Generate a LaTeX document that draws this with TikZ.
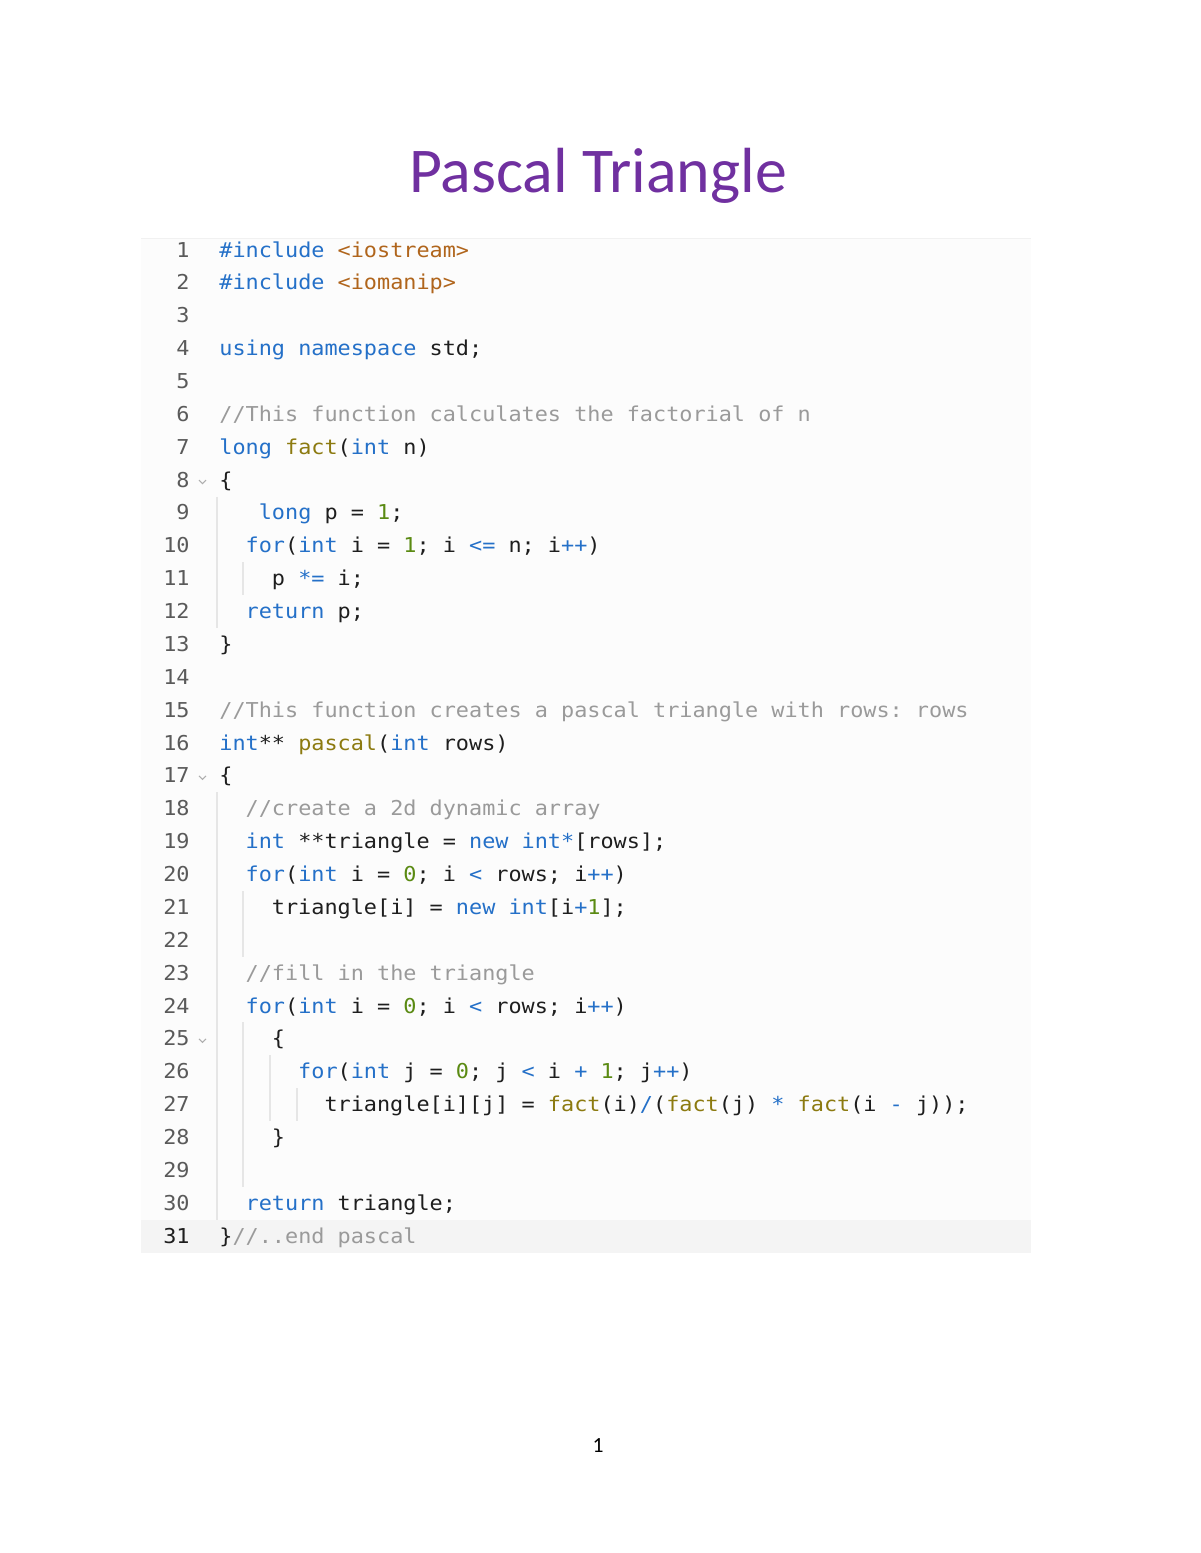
\documentclass[tikz,border=0pt]{standalone}
\usepackage{fontspec}
\newfontfamily\codefont[FakeStretch=1.065]{DejaVu Sans Mono}
\newfontfamily\titlefont{Carlito}
\definecolor{titlepurple}{HTML}{7030A0}
\definecolor{kwblue}{HTML}{2470C8}
\definecolor{strbrown}{HTML}{B0651C}
\definecolor{fnolive}{HTML}{8C7A10}
\definecolor{numgreen}{HTML}{5A8A12}
\definecolor{comgray}{HTML}{9A9A9A}
\definecolor{codeblack}{HTML}{1E1E1E}
\definecolor{lngray}{HTML}{5A5A5A}
\definecolor{codebg}{HTML}{FCFCFC}
\definecolor{hlbg}{HTML}{F4F4F4}
\definecolor{guidegray}{HTML}{E6E6E6}
\newcommand{\Ckw}[1]{\textcolor{kwblue}{#1}}
\newcommand{\Cstr}[1]{\textcolor{strbrown}{#1}}
\newcommand{\Cfn}[1]{\textcolor{fnolive}{#1}}
\newcommand{\Cnum}[1]{\textcolor{numgreen}{#1}}
\newcommand{\Ccom}[1]{\textcolor{comgray}{#1}}
\newcommand{\CLine}[3]{\node[codetext] (c#1) at ({219+#2*13.14},{257+(#1-1)*32.87}) {#3};}
\newcommand{\CGuide}[4]{\draw[guide] (#1,{250+(#2-1)*32.87-16.4}) -- (#1,{250+(#3-1)*32.87+16.4}) coordinate (#4);}
\frenchspacing
\begin{document}
\begin{tikzpicture}[x=0.5pt,y=-0.5pt,
  codetext/.style={anchor=base west,inner sep=0pt,text=codeblack,font=\frenchspacing\codefont\fontsize{10.25}{12}\selectfont},
  lnum/.style={anchor=base east,inner sep=0pt,text=lngray,font=\codefont\fontsize{10.25}{12}\selectfont},
  guide/.style={draw=guidegray,line width=0.6pt},
  fold/.style={draw=comgray!80,line width=0.5pt}]
\useasboundingbox (0,0) rectangle (1200,1553);
\fill[white] (0,0) rectangle (1200,1553);
% code background
\fill[codebg] (141,238) rectangle (1031,1253);
\draw[hlbg!90!black!40,line width=0.4pt] (141,238) -- (1031,238);
\fill[hlbg] (141,1220) rectangle (1031,1253);
% title
\node[anchor=base,inner sep=0pt,text=titlepurple,font=\titlefont\fontsize{31.9}{38}\selectfont] (title) at (598,192) {Pascal Triangle};
% line numbers
\foreach \n in {1,...,30} {
  \node[lnum] (n\n) at (190,{257+(\n-1)*32.87}) {\n};
}
\node[lnum,text=codeblack] (n31) at (190,{257+30*32.87}) {31};
% fold chevrons
\foreach \n in {8,17,25} {
  \draw[fold] (199,{250+(\n-1)*32.87}) -- (202.5,{253.5+(\n-1)*32.87}) -- (206,{250+(\n-1)*32.87});
}
% indent guides
\CGuide{217}{9}{12}{g1}
\CGuide{243}{11}{11}{g2}
\CGuide{217}{18}{30}{g3}
\CGuide{243}{21}{22}{g4}
\CGuide{243}{25}{29}{g5}
\CGuide{270}{26}{27}{g6}
\CGuide{297}{27}{27}{g7}
% code
\CLine{1}{0}{\Ckw{\#include} \Cstr{<iostream>}}
\CLine{2}{0}{\Ckw{\#include} \Cstr{<iomanip>}}
\CLine{4}{0}{\Ckw{using} \Ckw{namespace} std;}
\CLine{6}{0}{\Ccom{//This function calculates the factorial of n}}
\CLine{7}{0}{\Ckw{long} \Cfn{fact}(\Ckw{int} n)}
\CLine{8}{0}{\{}
\CLine{9}{3}{\Ckw{long} p = \Cnum{1};}
\CLine{10}{2}{\Ckw{for}(\Ckw{int} i = \Cnum{1}; i \Ckw{<=} n; i\Ckw{++})}
\CLine{11}{4}{p \Ckw{*=} i;}
\CLine{12}{2}{\Ckw{return} p;}
\CLine{13}{0}{\}}
\CLine{15}{0}{\Ccom{//This function creates a pascal triangle with rows: rows}}
\CLine{16}{0}{\Ckw{int}** \Cfn{pascal}(\Ckw{int} rows)}
\CLine{17}{0}{\{}
\CLine{18}{2}{\Ccom{//create a 2d dynamic array}}
\CLine{19}{2}{\Ckw{int} **triangle = \Ckw{new} \Ckw{int*}[rows];}
\CLine{20}{2}{\Ckw{for}(\Ckw{int} i = \Cnum{0}; i \Ckw{<} rows; i\Ckw{++})}
\CLine{21}{4}{triangle[i] = \Ckw{new} \Ckw{int}[i\Ckw{+}\Cnum{1}];}
\CLine{23}{2}{\Ccom{//fill in the triangle}}
\CLine{24}{2}{\Ckw{for}(\Ckw{int} i = \Cnum{0}; i \Ckw{<} rows; i\Ckw{++})}
\CLine{25}{4}{\{}
\CLine{26}{6}{\Ckw{for}(\Ckw{int} j = \Cnum{0}; j \Ckw{<} i \Ckw{+} \Cnum{1}; j\Ckw{++})}
\CLine{27}{8}{triangle[i][j] = \Cfn{fact}(i)\Ckw{/}(\Cfn{fact}(j) \Ckw{*} \Cfn{fact}(i \Ckw{-} j));}
\CLine{28}{4}{\}}
\CLine{30}{2}{\Ckw{return} triangle;}
\CLine{31}{0}{\}\Ccom{//..end pascal}}
% page number
\node[anchor=base,inner sep=0pt,font=\titlefont\fontsize{10.8}{13}\selectfont] (pagenum) at (598,1452) {1};
\end{tikzpicture}
\end{document}
